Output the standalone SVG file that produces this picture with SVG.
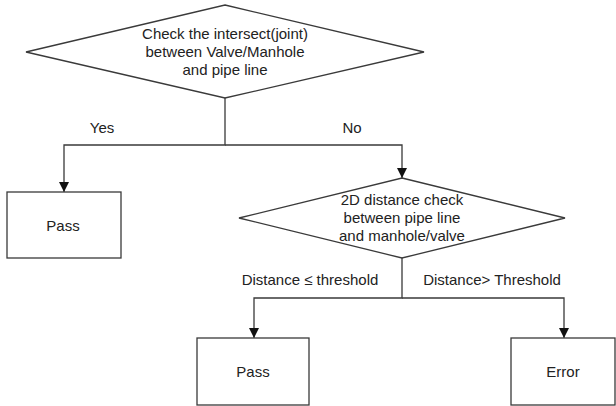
<svg xmlns="http://www.w3.org/2000/svg" width="616" height="406" viewBox="0 0 616 406">
<style>
.shape{fill:#fff;stroke:#3a3a3a;stroke-width:1.3}
.conn{fill:none;stroke:#3a3a3a;stroke-width:1.3}
text{font-family:"Liberation Sans",Arial,sans-serif;font-size:15px;fill:#222;text-anchor:middle}
</style>
<defs>
<marker id="arrow" markerUnits="userSpaceOnUse" markerWidth="10" markerHeight="10" refX="10" refY="5" orient="auto">
<path d="M0,0 L10,5 L0,10 z" fill="#111"/>
</marker>
</defs>
<rect width="616" height="406" fill="#fff"/>
<g id="connectors">
<path class="conn" d="M225,98 V145 H64 V192" marker-end="url(#arrow)"/>
<path class="conn" d="M225,145 H402 V178" marker-end="url(#arrow)"/>
<path class="conn" d="M402,258 V298 H254 V338" marker-end="url(#arrow)"/>
<path class="conn" d="M402,298 H564 V338" marker-end="url(#arrow)"/>
<text x="102" y="133">Yes</text>
<text x="352" y="133">No</text>
<text x="310" y="285">Distance ≤ threshold</text>
<text x="492" y="285">Distance&gt; Threshold</text>
</g>
<g id="decision1">
<polygon class="shape" points="225,5 424,52 225,98 26,52"/>
<text x="225" y="39">Check the intersect(joint)</text>
<text x="225" y="57">between Valve/Manhole</text>
<text x="225" y="75">and pipe line</text>
</g>
<g id="pass1">
<rect class="shape" x="7" y="192" width="114" height="66"/>
<text x="63" y="231">Pass</text>
</g>
<g id="decision2">
<polygon class="shape" points="402,178 565,218 402,258 239,218"/>
<text x="402" y="205">2D distance check</text>
<text x="402" y="223">between pipe line</text>
<text x="402" y="241">and manhole/valve</text>
</g>
<g id="pass2">
<rect class="shape" x="197" y="338" width="112" height="67"/>
<text x="253" y="377">Pass</text>
</g>
<g id="error">
<rect class="shape" x="511" y="338" width="104" height="67"/>
<text x="563" y="377">Error</text>
</g>
</svg>
